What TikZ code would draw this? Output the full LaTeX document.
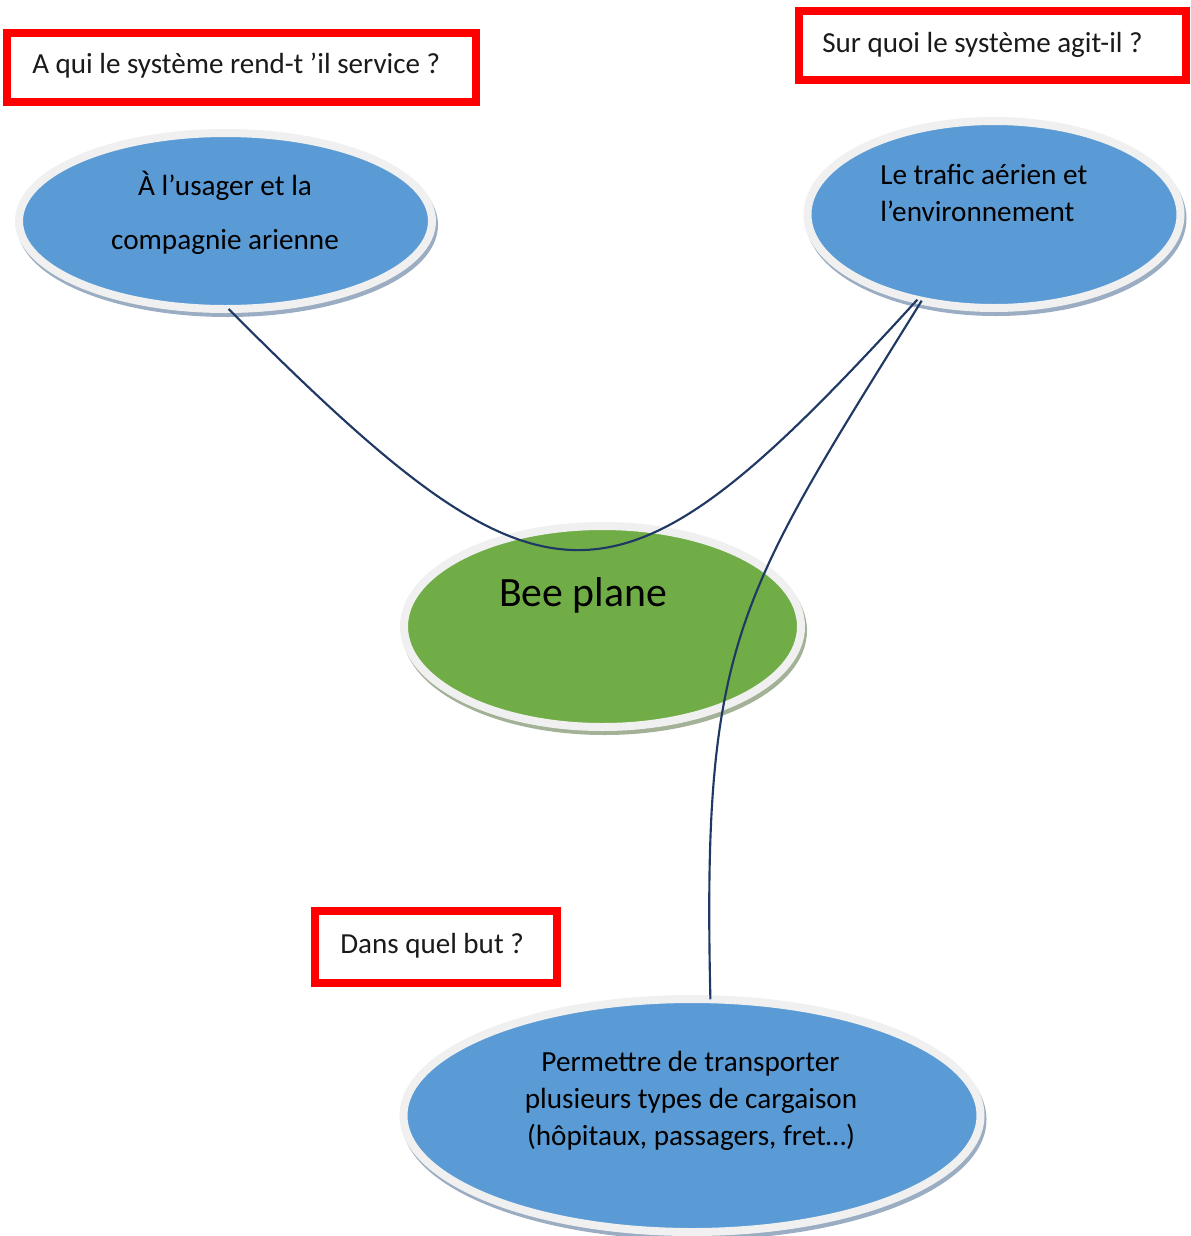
\documentclass[tikz,border=0pt]{standalone}
\usepackage{fontspec}
\setmainfont{Carlito}
\usetikzlibrary{shapes.geometric,shadows}
\definecolor{ellblue}{HTML}{5B9BD5}
\definecolor{ellgreen}{HTML}{70AD47}
\definecolor{rimcol}{HTML}{F0F0F0}
\definecolor{shblue}{HTML}{9AADC2}
\definecolor{shgreen}{HTML}{A3B197}
\definecolor{navy}{HTML}{1F3864}
\definecolor{qred}{HTML}{FF0000}
\definecolor{qtxt}{HTML}{1A1A1A}
\begin{document}
\begin{tikzpicture}[x=0.75pt,y=-0.75pt,
  ell/.style={ellipse, draw=rimcol, line width=6pt, inner sep=0pt, outer sep=0pt},
  blueell/.style={ell, fill=ellblue,
    general shadow={fill=shblue, draw=shblue, line width=6pt, shadow xshift=1.5pt, shadow yshift=-3pt}},
  greenell/.style={ell, fill=ellgreen,
    general shadow={fill=shgreen, draw=shgreen, line width=6pt, shadow xshift=1.5pt, shadow yshift=-3pt}},
  qbox/.style={rectangle, draw=qred, line width=6pt, fill=white, inner sep=0pt, outer sep=0pt},
  qtext/.style={font=\fontsize{21.8}{26}\selectfont, text=qtxt, inner sep=0pt, anchor=base west},
  etext/.style={font=\fontsize{21.9}{26}\selectfont, inner sep=0pt, anchor=base},
  etextl/.style={etext, anchor=base west},
  link/.style={draw=navy, line width=1.6pt}
]
\useasboundingbox[fill=white] (0,0) rectangle (1190,1236);

% question boxes
\node[qbox, minimum width=351.4pt, minimum height=52.1pt] (b1) at (241.75,67.25) {};
\node[qtext] (t1) at (32,73) {A qui le système rend-t ’il service ?};
\node[qbox, minimum width=290.25pt, minimum height=52pt] (b2) at (992.5,45.35) {};
\node[qtext] (t2) at (822,52) {Sur quoi le système agit-il ?};
\node[qbox, minimum width=181.5pt, minimum height=54pt] (b3) at (436,947) {};
\node[qtext] (t3) at (340,953) {Dans quel but ?};

% ellipses
\node[blueell, minimum width=309.75pt, minimum height=132pt] (e1) at (225.5,221) {};
\node[blueell, minimum width=279.75pt, minimum height=140.25pt] (e2) at (994,214.5) {};
\node[greenell, minimum width=297.75pt, minimum height=150.75pt] (e3) at (602.5,626.5) {};
\node[blueell, minimum width=432.75pt, minimum height=174.75pt] (e4) at (692,1115.5) {};

% ellipse texts
\node[etext] (e1a) at (225,195.5) {À l’usager et la};
\node[etext] (e1b) at (225,249) {compagnie arienne};
\node[etextl] (e2a) at (880,184.3) {Le trafic aérien et};
\node[etextl] (e2b) at (880,221.7) {l’environnement};
\node[etext, font=\fontsize{31.3}{36}\selectfont] (e3a) at (583,606.5) {Bee plane};
\node[etext] (e4a) at (690.5,1071) {Permettre de transporter};
\node[etext] (e4b) at (691,1108) {plusieurs types de cargaison};
\node[etext] (e4c) at (691,1145) {(hôpitaux, passagers, fret…)};

% connectors
\draw[link] (e1.272) .. controls (551,632) and (614,632) .. (e2.228);
\draw[link] (e2.230) .. controls (736,600) and (702,640) .. (e4.81);
\end{tikzpicture}
\end{document}
